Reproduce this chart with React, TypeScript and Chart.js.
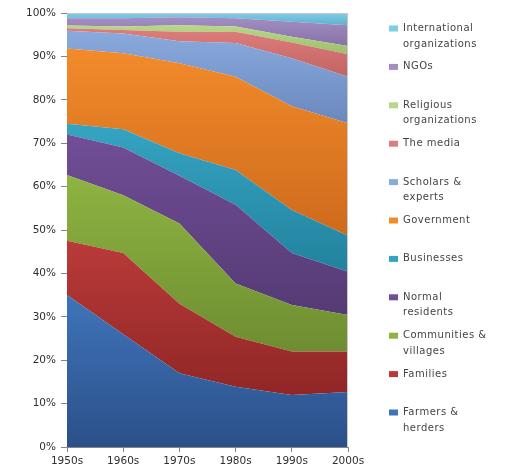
import { useEffect, useRef } from 'react';
import { Chart, registerables } from 'chart.js';

Chart.register(...registerables);

// Decades along the x axis
const categories = ['1950s', '1960s', '1970s', '1980s', '1990s', '2000s'];

// Share (%) of each actor per decade, stacked bottom to top
const farmersHerders = [35, 26, 17, 13.9, 12, 12.7];
const families = [12.5, 18.7, 16, 11.5, 10, 9.3];
const communitiesVillages = [15.2, 13.3, 18.5, 12.3, 10.7, 8.4];
const normalResidents = [9.3, 11, 11, 18.1, 12, 10];
const businesses = [2.5, 4.2, 5.2, 8, 9.9, 8.3];
const government = [17.3, 17.5, 20.7, 21.5, 23.9, 25.9];
const scholarsExperts = [4.1, 4.6, 5.1, 7.8, 11.1, 10.7];
const theMedia = [0.6, 0.8, 2.2, 2.6, 3.6, 5.2];
const religiousOrgs = [0.6, 0.8, 1.5, 1.2, 1.3, 1.9];
const ngos = [1.7, 1.9, 1.8, 1.9, 3.5, 4.8];
const internationalOrgs = [1.2, 1.2, 1.0, 1.2, 2.0, 2.8];

// Y axis tick values
const yTicks = [0, 10, 20, 30, 40, 50, 60, 70, 80, 90, 100];

type Series = { label: string[]; data: number[]; top: string; bottom: string };

const series: Series[] = [
  { label: ['Farmers &', 'herders'], data: farmersHerders, top: '#3f74ba', bottom: '#2b5089' },
  { label: ['Families'], data: families, top: '#b93b39', bottom: '#912626' },
  { label: ['Communities &', 'villages'], data: communitiesVillages, top: '#8eb442', bottom: '#6e8d31' },
  { label: ['Normal', 'residents'], data: normalResidents, top: '#714e97', bottom: '#553a74' },
  { label: ['Businesses'], data: businesses, top: '#35a4c3', bottom: '#22829d' },
  { label: ['Government'], data: government, top: '#f28b2b', bottom: '#ce6a1c' },
  { label: ['Scholars &', 'experts'], data: scholarsExperts, top: '#8aaade', bottom: '#6a88bd' },
  { label: ['The media'], data: theMedia, top: '#de7e7c', bottom: '#c26462' },
  { label: ['Religious', 'organizations'], data: religiousOrgs, top: '#b7d888', bottom: '#9cbe6d' },
  { label: ['NGOs'], data: ngos, top: '#a38ec3', bottom: '#8772a8' },
  { label: ['International', 'organizations'], data: internationalOrgs, top: '#7fcce7', bottom: '#60b1cc' },
];

// cumulative bottoms and tops of each band
const cumBottom: number[][] = [];
const cumTop: number[][] = [];
series.forEach((s, i) => {
  const base = i === 0 ? categories.map(() => 0) : cumTop[i - 1];
  cumBottom.push(base);
  cumTop.push(base.map((b, k) => b + s.data[k]));
});

const FONT = 'DejaVu Sans';
const TEXT = '#2e2e2e';
const LEGEND_TEXT = '#444444';
const AXIS = '#868686';

const legendPlugin = {
  id: 'sideLegend',
  afterDraw(chart: any) {
    const ctx = chart.ctx as CanvasRenderingContext2D;
    ctx.save();
    ctx.font = `10px "${FONT}"`;
    (ctx as any).letterSpacing = '0.5px';
    ctx.textBaseline = 'middle';
    ctx.textAlign = 'left';
    const first = 28.5;
    const step = 38.4;
    const items = [...series].reverse();
    items.forEach((s, i) => {
      const y = first + i * step;
      ctx.fillStyle = s.top;
      ctx.fillRect(389, y - 3, 9, 6);
      ctx.fillStyle = LEGEND_TEXT;
      s.label.forEach((line, j) => {
        ctx.fillText(line, 403, y + j * 15.5);
      });
    });
    ctx.restore();
  },
};

const framePlugin = {
  id: 'plotFrame',
  afterDatasetsDraw(chart: any) {
    const { ctx, chartArea: a } = chart;
    ctx.save();
    ctx.strokeStyle = '#c9c9c9';
    ctx.lineWidth = 1;
    ctx.beginPath();
    ctx.moveTo(a.left, a.top + 0.5);
    ctx.lineTo(a.right - 0.5, a.top + 0.5);
    ctx.lineTo(a.right - 0.5, a.bottom);
    ctx.stroke();
    ctx.restore();
  },
};

export default function App() {
  const ref = useRef<HTMLCanvasElement>(null);

  useEffect(() => {
    if (!ref.current) return;
    const chart = new Chart(ref.current, {
      type: 'line',
      data: {
        labels: categories,
        datasets: series.map((s, i) => ({
          label: s.label.join(' '),
          data: s.data,
          fill: i === 0 ? 'origin' : '-1',
          borderWidth: 0,
          borderColor: 'rgba(0,0,0,0)',
          pointRadius: 0,
          tension: 0,
          backgroundColor: (c: any) => {
            const ch = c.chart;
            if (!ch.chartArea) return s.top;
            const y = ch.scales.y;
            const t = y.getPixelForValue(Math.max(...cumTop[i]));
            const b = y.getPixelForValue(Math.min(...cumBottom[i]));
            const g = ch.ctx.createLinearGradient(0, t, 0, Math.max(b, t + 1));
            g.addColorStop(0, s.top);
            g.addColorStop(1, s.bottom);
            return g;
          },
        })),
      },
      options: {
        responsive: false,
        animation: false,
        devicePixelRatio: 1,
        layout: { padding: { left: 0, right: 160, top: 13, bottom: 0 } },
        plugins: { legend: { display: false }, tooltip: { enabled: false } },
        scales: {
          x: {
            type: 'category',
            offset: false,
            grid: { display: true, drawOnChartArea: false, tickLength: 5, color: AXIS },
            border: { color: AXIS },
            ticks: { color: TEXT, font: { family: FONT, size: 10.5 }, padding: 3, maxRotation: 0, autoSkip: false },
            afterFit: (s: any) => { s.height = 23; },
          },
          y: {
            stacked: true,
            min: 0,
            max: 100,
            afterBuildTicks: (s: any) => { s.ticks = yTicks.map((v) => ({ value: v })); },
            grid: { display: true, drawOnChartArea: false, tickLength: 6, color: AXIS },
            border: { color: AXIS },
            ticks: { color: TEXT, font: { family: FONT, size: 10.5 }, padding: 5, callback: (v: any) => `${v}%` },
            afterFit: (s: any) => { s.width = 67; },
          },
        },
      },
      plugins: [legendPlugin, framePlugin],
    });
    return () => chart.destroy();
  }, []);

  return (
    <div style={{ position: 'fixed', left: 0, top: 0, width: 508, height: 470, background: '#ffffff' }}>
      <canvas ref={ref} width={508} height={470} style={{ display: 'block' }} />
    </div>
  );
}
